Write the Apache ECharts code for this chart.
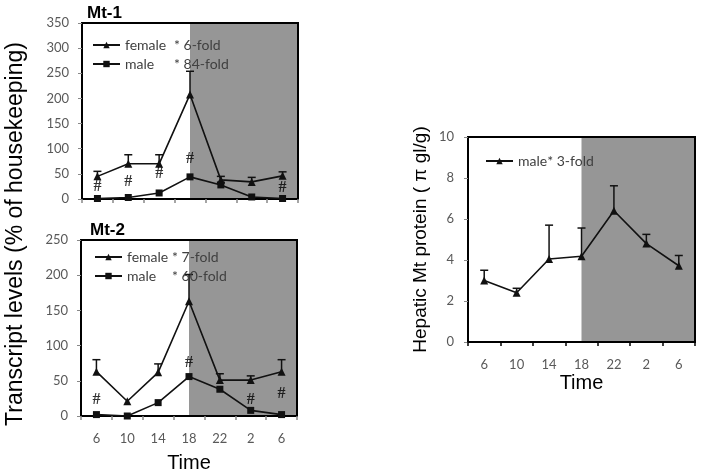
<!DOCTYPE html>
<html>
<head>
<meta charset="utf-8">
<title>Mt transcript and protein</title>
<script src="https://cdn.jsdelivr.net/npm/echarts@6/dist/echarts.min.js"></script>
<style>
  html, body { margin: 0; padding: 0; background: #fff; }
  #chart { width: 703px; height: 475px; }
</style>
</head>
<body>
<div id="chart"></div>
<script>
// time of day (h); dark phase starts at 18
const times = ['6', '10', '14', '18', '22', '2', '6']
const darkFrom = '18'

// Mt-1 transcript (% of housekeeping), mean and upper error
const mt1Female = [45, 70, 70, 208, 38, 34, 46]
const mt1FemaleErr = [10, 18, 18, 46, 7, 9, 8]
const mt1Male = [1, 3, 12, 44, 28, 4, 1]
const mt1MaleErr = [0, 0, 0, 0, 5, 0, 0]
const mt1Hash = [[0, 24], [1, 34], [2, 50], [3, 80], [6, 23]]

// Mt-2 transcript
const mt2Female = [63, 21, 62, 163, 51, 51, 63]
const mt2FemaleErr = [17, 0, 12, 38, 9, 6, 17]
const mt2Male = [2, 0, 19, 56, 38, 8, 2]
const mt2MaleErr = [0, 0, 0, 0, 0, 0, 0]
const mt2Hash = [[0, 23], [3, 75], [5, 23], [6, 31]]

// hepatic Mt protein, male
const protein = [3.0, 2.4, 4.05, 4.18, 6.4, 4.8, 3.72]
const proteinErr = [0.5, 0.22, 1.65, 1.38, 1.22, 0.45, 0.5]

const legendText = {
  'Mt-1 female': ['female', '6-fold'],
  'Mt-1 male': ['male', '84-fold'],
  'Mt-2 female': ['female', '7-fold'],
  'Mt-2 male': ['male', '60-fold'],
  'Protein male': ['male', '3-fold']
}

const ink = '#111'
const tickGray = '#595959'
const darkIdx = times.indexOf(darkFrom)

function bandRender(params, api) {
  const cs = params.coordSys
  const x0 = api.coord([api.value(0), 0])[0]
  return {
    type: 'rect',
    shape: { x: x0, y: cs.y + 1, width: cs.x + cs.width - x0 - 1, height: cs.height - 2 },
    style: { fill: '#969696' }
  }
}

function errRender(params, api) {
  const base = api.coord([api.value(0), api.value(1)])
  const top = api.coord([api.value(0), api.value(2)])
  const style = { stroke: ink, lineWidth: 1.5 }
  return {
    type: 'group',
    children: [
      { type: 'line', shape: { x1: base[0], y1: base[1], x2: top[0], y2: top[1] }, style },
      { type: 'line', shape: { x1: top[0] - 4, y1: top[1], x2: top[0] + 4, y2: top[1] }, style }
    ]
  }
}

function band(idx) {
  return {
    type: 'custom', xAxisIndex: idx, yAxisIndex: idx, z: 1, silent: true,
    renderItem: bandRender, data: [[darkIdx, 0]]
  }
}

function errBars(idx, values, errs) {
  const data = values.map((v, i) => [i, v, v + errs[i]]).filter((d, i) => errs[i] > 0)
  return {
    type: 'custom', xAxisIndex: idx, yAxisIndex: idx, z: 2, silent: true,
    renderItem: errRender, data
  }
}

function lineSeries(name, idx, values, symbol, size) {
  return {
    name, type: 'line', xAxisIndex: idx, yAxisIndex: idx, z: 3,
    data: values, symbol, symbolSize: size,
    lineStyle: { color: ink, width: 1.6 },
    itemStyle: { color: ink }
  }
}

function hashSeries(idx, data) {
  return {
    type: 'scatter', xAxisIndex: idx, yAxisIndex: idx, z: 4, silent: true,
    data, symbolSize: 1, itemStyle: { color: 'transparent' },
    label: {
      show: true, position: 'inside', formatter: '#',
      fontFamily: 'Liberation Serif', fontSize: 16, fontWeight: 'bold', color: '#000'
    }
  }
}

function legendFor(names, left, top, fixedWidth) {
  return {
    data: names, left, top, orient: 'vertical', itemGap: 5,
    itemWidth: 27, itemHeight: 8, selectedMode: false,
    formatter: n => `{a|${legendText[n][0]}}{b|* ${legendText[n][1]}}`,
    textStyle: {
      rich: {
        a: { fontFamily: 'Lato', fontSize: 14, color: '#404040', width: fixedWidth, lineHeight: 16 },
        b: { fontFamily: 'Lato', fontSize: 14, color: '#404040', lineHeight: 16 }
      }
    }
  }
}

function catAxis(idx, showLabels, name, nameGap, tickColor) {
  return {
    gridIndex: idx, type: 'category', data: times, boundaryGap: true,
    axisLine: { show: true, lineStyle: { color: '#000', width: 2 } },
    axisTick: { show: true, length: 4, lineStyle: { color: tickColor, width: 1.5 } },
    axisLabel: {
      show: showLabels, interval: 0, margin: 16,
      fontFamily: 'Lato', fontSize: 13, color: tickGray
    },
    name, nameLocation: 'middle', nameGap,
    nameTextStyle: { fontFamily: 'Liberation Sans', fontSize: 20, color: '#000' }
  }
}

function valAxis(idx, max, interval, margin) {
  return {
    gridIndex: idx, type: 'value', min: 0, max, interval,
    splitLine: { show: false },
    axisLine: { show: true, lineStyle: { color: '#000', width: 2 } },
    axisTick: { show: true, length: 4, lineStyle: { color: '#888' } },
    axisLabel: { margin, fontFamily: 'Lato', fontSize: 13, color: tickGray }
  }
}

const gridBase = { show: true, borderColor: '#000', borderWidth: 2, backgroundColor: '#fff', outerBoundsMode: 'none' }

const chart = echarts.init(document.getElementById('chart'))
const proteinAxis = valAxis(2, 10, 2, 14)
proteinAxis.name = 'Hepatic Mt protein ( \u03c0 gl/g)'
proteinAxis.nameLocation = 'middle'
proteinAxis.nameGap = 38
proteinAxis.nameTextStyle = { fontFamily: 'Liberation Sans', fontSize: 19, color: '#000' }

chart.setOption({
  animation: false,
  title: [
    { text: 'Mt-1', left: 87, top: 5, padding: 0, textStyle: { fontFamily: 'Liberation Sans', fontSize: 17, fontWeight: 'bold', color: '#000' } },
    { text: 'Mt-2', left: 90, top: 222, padding: 0, textStyle: { fontFamily: 'Liberation Sans', fontSize: 17, fontWeight: 'bold', color: '#000' } }
  ],
  grid: [
    Object.assign({ left: 82, top: 23, width: 216, height: 176 }, gridBase),
    Object.assign({ left: 81, top: 240, width: 216, height: 176 }, gridBase),
    Object.assign({ left: 468, top: 137, width: 227, height: 205 }, gridBase)
  ],
  xAxis: [
    catAxis(0, false, '', 0, '#888'),
    catAxis(1, true, 'Time', 37, '#888'),
    catAxis(2, true, 'Time', 31, '#000')
  ],
  yAxis: [
    valAxis(0, 350, 50, 13),
    valAxis(1, 250, 50, 13),
    proteinAxis
  ],
  legend: [
    legendFor(['Mt-1 female', 'Mt-1 male'], 87, 33, 49),
    legendFor(['Mt-2 female', 'Mt-2 male'], 89, 245, 45),
    legendFor(['Protein male'], 480, 149, undefined)
  ],
  graphic: [
    {
      type: 'text', x: 16, y: 234, rotation: Math.PI / 2,
      style: {
        text: 'Transcript levels (% of housekeeping)',
        fontFamily: 'Liberation Sans', fontSize: 23, fill: '#000',
        align: 'center', verticalAlign: 'middle'
      }
    }
  ],
  series: [
    band(0), band(1), band(2),
    errBars(0, mt1Female, mt1FemaleErr),
    errBars(0, mt1Male, mt1MaleErr),
    errBars(1, mt2Female, mt2FemaleErr),
    errBars(1, mt2Male, mt2MaleErr),
    errBars(2, protein, proteinErr),
    lineSeries('Mt-1 female', 0, mt1Female, 'triangle', 8),
    lineSeries('Mt-1 male', 0, mt1Male, 'rect', 7),
    lineSeries('Mt-2 female', 1, mt2Female, 'triangle', 8),
    lineSeries('Mt-2 male', 1, mt2Male, 'rect', 7),
    lineSeries('Protein male', 2, protein, 'triangle', 8),
    hashSeries(0, mt1Hash),
    hashSeries(1, mt2Hash)
  ]
})
</script>
</body>
</html>
